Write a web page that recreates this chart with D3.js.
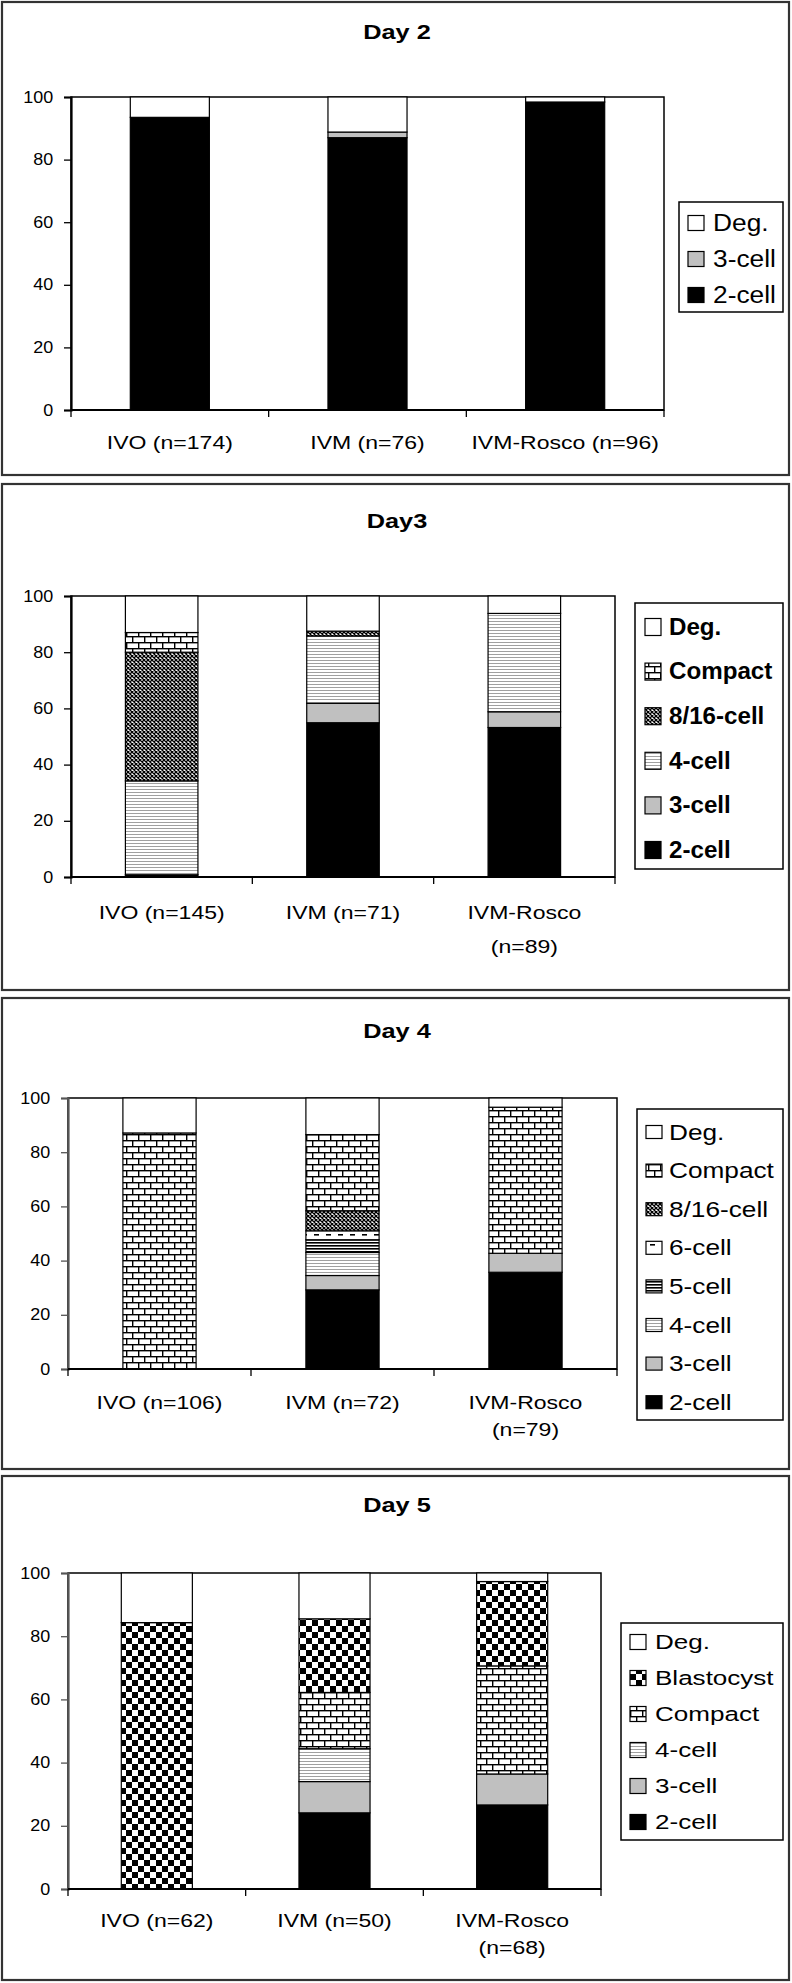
<!DOCTYPE html>
<html><head><meta charset="utf-8">
<script src="https://cdn.jsdelivr.net/npm/d3@7"></script>
<style>body{margin:0;background:#fff} svg{display:block}</style>
</head><body>
<svg id="chart" width="792" height="1983"></svg>
<script>
// ---------------- data ----------------
const groups = ["IVO", "IVM", "IVM-Rosco"];
const yTicks = [0, 20, 40, 60, 80, 100];

const day2Title = "Day 2";
const day2Labels = [["IVO (n=174)"], ["IVM (n=76)"], ["IVM-Rosco (n=96)"]];
const day2Stages = ["2-cell", "3-cell", "Deg."];
const day2Cell2 = [93.5, 87.0, 98.4];
const day2Cell3 = [0, 1.8, 0];
const day2Deg   = [6.5, 11.2, 1.6];

const day3Title = "Day3";
const day3Labels = [["IVO (n=145)"], ["IVM (n=71)"], ["IVM-Rosco", "(n=89)"]];
const day3Stages = ["2-cell", "3-cell", "4-cell", "8/16-cell", "Compact", "Deg."];
const day3Cell2    = [0.8, 54.9, 53.2];
const day3Cell3    = [0, 6.9, 5.6];
const day3Cell4    = [33.4, 24.0, 35.0];
const day3Cell816  = [45.8, 1.7, 0];
const day3Compact  = [7.0, 0, 0];
const day3Deg      = [13.0, 12.5, 6.2];

const day4Title = "Day 4";
const day4Labels = [["IVO (n=106)"], ["IVM  (n=72)"], ["IVM-Rosco", "(n=79)"]];
const day4Stages = ["2-cell", "3-cell", "4-cell", "5-cell", "6-cell", "8/16-cell", "Compact", "Deg."];
const day4Cell2    = [0, 29.2, 35.7];
const day4Cell3    = [0, 5.3, 7.0];
const day4Cell4    = [0, 8.5, 0];
const day4Cell5    = [0, 4.7, 0];
const day4Cell6    = [0, 3.3, 0];
const day4Cell816  = [0, 7.4, 0];
const day4Compact  = [87.1, 28.1, 53.9];
const day4Deg      = [12.9, 13.5, 3.4];

const day5Title = "Day 5";
const day5Labels = [["IVO (n=62)"], ["IVM (n=50)"], ["IVM-Rosco", "(n=68)"]];
const day5Stages = ["2-cell", "3-cell", "4-cell", "Compact", "Blastocyst", "Deg."];
const day5Cell2    = [0, 24.1, 26.6];
const day5Cell3    = [0, 9.9, 9.8];
const day5Cell4    = [0, 10.4, 0];
const day5Compact  = [0, 17.8, 34.2];
const day5Blast    = [84.3, 23.3, 26.7];
const day5Deg      = [15.7, 14.5, 2.7];

// ---------------- styles ----------------
const FONT = "'Liberation Sans', Arial, sans-serif";
const fills = {
  "Deg.": "#ffffff", "2-cell": "#000000", "3-cell": "#c0c0c0",
  "4-cell": "url(#p4)", "5-cell": "url(#p5)", "6-cell": "url(#p6)",
  "8/16-cell": "url(#p816)", "Compact": "url(#pComp)", "Blastocyst": "url(#pBlast)"
};

const svg = d3.select("#chart");
const defs = svg.append("defs");
function pat(id, w, h, build) {
  const p = defs.append("pattern").attr("id", id).attr("patternUnits", "userSpaceOnUse")
    .attr("width", w).attr("height", h);
  p.append("rect").attr("width", w).attr("height", h).attr("fill", "#fff");
  build(p);
}
pat("p4", 4, 3, p => p.append("rect").attr("y", 0).attr("width", 4).attr("height", 1).attr("fill", "#a0a0a0"));
pat("p5", 4, 3, p => p.append("rect").attr("y", 0).attr("width", 4).attr("height", 1.6).attr("fill", "#000"));
pat("p6", 12, 10, p => p.append("rect").attr("x", 2).attr("y", 4).attr("width", 5).attr("height", 1.6).attr("fill", "#000"));
pat("p816", 4, 4, p => p.append("path").attr("d", "M0,0L4,4M4,0L0,4").attr("stroke", "#000").attr("stroke-width", 1.3));
pat("pComp", 12, 12, p => {
  p.append("rect").attr("x", 0).attr("y", 0).attr("width", 12).attr("height", 1.4).attr("fill", "#000");
  p.append("rect").attr("x", 0).attr("y", 6).attr("width", 12).attr("height", 1.4).attr("fill", "#000");
  p.append("rect").attr("x", 0).attr("y", 0).attr("width", 1.4).attr("height", 6).attr("fill", "#000");
  p.append("rect").attr("x", 6).attr("y", 6).attr("width", 1.4).attr("height", 6).attr("fill", "#000");
});
pat("pBlast", 12, 12, p => {
  p.append("rect").attr("x", 0).attr("y", 0).attr("width", 6).attr("height", 6).attr("fill", "#000");
  p.append("rect").attr("x", 6).attr("y", 6).attr("width", 6).attr("height", 6).attr("fill", "#000");
});

function stretchedText(parent, x, y, str, size, sx, opts = {}) {
  const g = parent.append("g").attr("transform", `translate(${x},${y}) scale(${sx},1)`);
  return g.append("text").attr("x", 0).attr("y", 0)
    .attr("text-anchor", opts.anchor || "start")
    .attr("dominant-baseline", "central")
    .attr("font-family", FONT).attr("font-size", size)
    .attr("font-weight", opts.bold ? "bold" : "normal")
    .attr("fill", "#000").text(str);
}

function drawPanel(cfg) {
  const g = svg.append("g");
  // frame
  g.append("rect").attr("x", 2).attr("y", cfg.top).attr("width", 787).attr("height", cfg.bottom - cfg.top)
    .attr("fill", "#fff").attr("stroke", "#333").attr("stroke-width", 2.2);
  // title
  stretchedText(g, 397, cfg.titleY, cfg.title, 19.5, 1.3, {anchor: "middle", bold: true});

  const x = d3.scaleBand().domain(groups).range([cfg.x0, cfg.x1]).paddingInner(0.6).paddingOuter(0.3);
  const y = d3.scaleLinear().domain([0, 100]).range([cfg.yBot, cfg.yTop]);

  const rows = groups.map((gr, i) => {
    const o = {group: gr};
    cfg.stages.forEach((s, k) => o[s] = cfg.values[k][i]);
    return o;
  });
  const stacked = d3.stack().keys(cfg.stages)(rows);

  // plot area frame
  g.append("rect").attr("x", cfg.x0).attr("y", cfg.yTop).attr("width", cfg.x1 - cfg.x0).attr("height", cfg.yBot - cfg.yTop)
    .attr("fill", "#fff").attr("stroke", "#000").attr("stroke-width", 1.5);

  // bars
  stacked.forEach(layer => {
    g.append("g").selectAll("rect").data(layer.filter(d => d[1] - d[0] > 0)).join("rect")
      .attr("x", d => x(d.data.group))
      .attr("width", x.bandwidth())
      .attr("y", d => y(d[1]))
      .attr("height", d => y(d[0]) - y(d[1]))
      .attr("fill", fills[layer.key])
      .attr("stroke", "#000").attr("stroke-width", 1.2);
  });

  // y axis
  const ya = g.append("g").attr("transform", `translate(${cfg.x0},0)`)
    .call(d3.axisLeft(y).tickValues(yTicks).tickSize(7).tickPadding(9).tickFormat(d3.format("d")));
  ya.select(".domain").attr("stroke", cfg.axisColor).attr("stroke-width", 2.2);
  ya.selectAll(".tick line").attr("stroke", cfg.axisColor).attr("stroke-width", 1.3);
  ya.selectAll(".tick text").attr("font-family", FONT).attr("font-size", 16).attr("fill", "#000")
    .attr("transform", "scale(1.12,1)");

  // x axis with ticks at category boundaries
  const step = x.step();
  const edges = d3.range(groups.length + 1).map(i => cfg.x0 + i * step);
  g.append("line").attr("x1", cfg.x0).attr("x2", cfg.x1).attr("y1", cfg.yBot).attr("y2", cfg.yBot)
    .attr("stroke", "#000").attr("stroke-width", 2);
  g.selectAll(".xt").data(edges).join("line")
    .attr("x1", d => d).attr("x2", d => d).attr("y1", cfg.yBot).attr("y2", cfg.yBot + 7)
    .attr("stroke", "#000").attr("stroke-width", 1.3);
  cfg.labels.forEach((lines, i) => {
    lines.forEach((ln, j) => {
      stretchedText(g, x(groups[i]) + x.bandwidth() / 2, cfg.labelY + j * cfg.labelGap, ln, 18, 1.28, {anchor: "middle"});
    });
  });

  // legend
  const L = cfg.legend;
  g.append("rect").attr("x", L.x).attr("y", L.y).attr("width", L.w).attr("height", L.h)
    .attr("fill", "#fff").attr("stroke", "#000").attr("stroke-width", 1.5);
  const legendStages = cfg.stages.slice().reverse();
  legendStages.forEach((s, k) => {
    const cy = L.firstY + k * L.gap;
    g.append("rect").attr("x", L.swX).attr("y", cy - L.swH / 2).attr("width", L.swW).attr("height", L.swH)
      .attr("fill", fills[s]).attr("stroke", "#000").attr("stroke-width", 1.2);
    stretchedText(g, L.textX, cy, s, L.font, L.sx, {bold: L.bold});
  });
}

drawPanel({
  top: 2, bottom: 475, title: day2Title, titleY: 33, axisColor: "#000",
  x0: 71, x1: 664, yTop: 97, yBot: 410,
  labels: day2Labels, labelY: 442, labelGap: 0,
  stages: day2Stages, values: [day2Cell2, day2Cell3, day2Deg],
  legend: {x: 679, y: 202, w: 104, h: 110, firstY: 223, gap: 36, swX: 688, swW: 16, swH: 15, textX: 713, font: 23.5, sx: 1.12, bold: false}
});
drawPanel({
  top: 484, bottom: 990, title: day3Title, titleY: 522, axisColor: "#000",
  x0: 71, x1: 615, yTop: 596, yBot: 877,
  labels: day3Labels, labelY: 912, labelGap: 34,
  stages: day3Stages, values: [day3Cell2, day3Cell3, day3Cell4, day3Cell816, day3Compact, day3Deg],
  legend: {x: 635, y: 603, w: 148, h: 266, firstY: 627, gap: 44.6, swX: 645, swW: 16, swH: 17, textX: 669, font: 23, sx: 1.05, bold: true}
});
drawPanel({
  top: 998, bottom: 1469, title: day4Title, titleY: 1032, axisColor: "#555",
  x0: 68, x1: 617, yTop: 1098, yBot: 1369,
  labels: day4Labels, labelY: 1402, labelGap: 27,
  stages: day4Stages, values: [day4Cell2, day4Cell3, day4Cell4, day4Cell5, day4Cell6, day4Cell816, day4Compact, day4Deg],
  legend: {x: 637, y: 1109, w: 146, h: 311, firstY: 1132, gap: 38.6, swX: 646, swW: 16, swH: 13, textX: 669, font: 21.5, sx: 1.22, bold: false}
});
drawPanel({
  top: 1476, bottom: 1980, title: day5Title, titleY: 1506, axisColor: "#555",
  x0: 68, x1: 601, yTop: 1573, yBot: 1889,
  labels: day5Labels, labelY: 1920, labelGap: 27,
  stages: day5Stages, values: [day5Cell2, day5Cell3, day5Cell4, day5Compact, day5Blast, day5Deg],
  legend: {x: 621, y: 1623, w: 162, h: 217, firstY: 1642, gap: 36, swX: 630, swW: 16, swH: 15, textX: 655, font: 20.5, sx: 1.27, bold: false}
});
</script>
</body></html>
